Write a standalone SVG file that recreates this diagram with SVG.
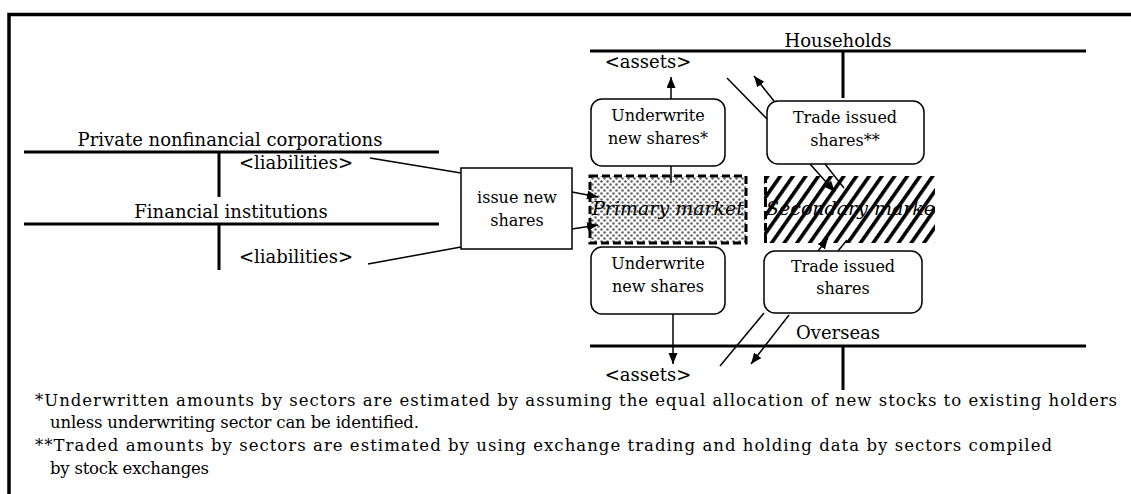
<svg xmlns="http://www.w3.org/2000/svg" width="1131" height="494" viewBox="0 0 1131 494">
<defs>
<style>
text{font-family:"DejaVu Serif","Liberation Serif",serif;fill:#000}
.lbl{font-size:18px;text-anchor:middle}
.box{font-size:16px;text-anchor:middle}
.mkt{font-size:19px;font-style:italic}
.note{font-size:16.5px}
.thick{stroke:#000;stroke-width:3;fill:none}
.conn{stroke:#000;stroke-width:1.5;fill:none}
.arr{stroke:#000;stroke-width:1.5;fill:none;marker-end:url(#ah)}
.rbox{fill:#fff;stroke:#000;stroke-width:1.5}
.dash{fill:none;stroke:#000;stroke-width:3;stroke-dasharray:8 4}
</style>
<marker id="ah" markerUnits="userSpaceOnUse" markerWidth="12" markerHeight="10" refX="11" refY="4.5" orient="auto"><path d="M0,0 L11,4.5 L0,9 Z" fill="#000"/></marker>
<pattern id="dots" width="6" height="6" patternUnits="userSpaceOnUse"><circle cx="1.5" cy="1.5" r="1.3" fill="#666"/><circle cx="4.5" cy="4.5" r="1.3" fill="#666"/></pattern>
<pattern id="hatch" width="10.4" height="20" patternUnits="userSpaceOnUse" patternTransform="rotate(35)"><rect x="0" y="0" width="3.6" height="20" fill="#000"/></pattern>
<clipPath id="secClip"><rect x="764" y="176" width="171" height="67"/></clipPath>
</defs>
<rect width="1131" height="494" fill="#fff"/>
<path d="M9,494 V14.5 H1131" fill="none" stroke="#000" stroke-width="3.5"/>

<g id="households">
<path class="thick" d="M590,51 H1086 M843,51 V98"/>
<text class="lbl" x="838" y="47">Households</text>
<text class="lbl" x="648" y="68" font-size="17">&lt;assets&gt;</text>
</g>
<g id="overseas">
<path class="thick" d="M590,346 H1086 M843,346 V390"/>
<text class="lbl" x="838" y="339">Overseas</text>
<text class="lbl" x="648" y="381" font-size="17">&lt;assets&gt;</text>
</g>
<g id="private-nonfinancial-corporations">
<path class="thick" d="M24,152 H439 M219,152 V197"/>
<text class="lbl" x="230" y="146" font-size="18.5">Private nonfinancial corporations</text>
<text class="lbl" x="296" y="169">&lt;liabilities&gt;</text>
</g>
<g id="financial-institutions">
<path class="thick" d="M24,224 H439 M219,224 V270"/>
<text class="lbl" x="231" y="218" font-size="18.5">Financial institutions</text>
<text class="lbl" x="296" y="263">&lt;liabilities&gt;</text>
</g>
<g id="issue-new-shares">
<rect x="461" y="168" width="111" height="81" fill="#fff" stroke="#000" stroke-width="1.5"/>
<text class="box" x="517" y="203">issue new</text>
<text class="box" x="517" y="226">shares</text>
</g>
<g id="primary-market">
<rect x="590" y="176" width="156" height="67" fill="url(#dots)"/>
<rect class="dash" x="590" y="176" width="156" height="67"/>
<text class="mkt" x="668" y="215" text-anchor="middle">Primary market</text>
</g>
<g id="secondary-market">
<rect x="764" y="176" width="171" height="67" fill="url(#hatch)"/>
<path class="dash" d="M765.5,243 V176"/>
<text class="mkt" x="766" y="215" clip-path="url(#secClip)">Secondary market</text>
</g>
<g id="underwrite-households">
<rect class="rbox" x="591" y="99" width="134" height="67" rx="11"/>
<text class="box" x="658" y="121">Underwrite</text>
<text class="box" x="658" y="144">new shares*</text>
</g>
<g id="trade-households">
<rect class="rbox" x="767" y="101" width="157" height="63" rx="11"/>
<text class="box" x="845" y="123">Trade issued</text>
<text class="box" x="845" y="146">shares**</text>
</g>
<g id="underwrite-overseas">
<rect class="rbox" x="591" y="247" width="134" height="67" rx="11"/>
<text class="box" x="658" y="269">Underwrite</text>
<text class="box" x="658" y="292">new shares</text>
</g>
<g id="trade-overseas">
<rect class="rbox" x="764" y="251" width="158" height="62" rx="11"/>
<text class="box" x="843" y="272">Trade issued</text>
<text class="box" x="843" y="294">shares</text>
</g>

<g id="connectors">
<path class="conn" d="M370,158 L461,173"/>
<path class="conn" d="M368,264 L461,247"/>
<path class="arr" d="M572,192 L598,197"/>
<path class="arr" d="M572,229 L598,225"/>
<path class="arr" d="M671,99 V77"/>
<path class="conn" d="M671,166 V183"/>
<path class="conn" d="M727,78 L767,119"/>
<path class="arr" d="M774,101 L754,76"/>
<path class="arr" d="M810,164 L835,192"/>
<path class="conn" d="M825,164 L844,188"/>
<path class="arr" d="M818,251 L828,238"/>
<path class="conn" d="M838,251 L847,240"/>
<path class="arr" d="M673,314 V364"/>
<path class="conn" d="M764,313 L720,366"/>
<path class="arr" d="M789,315 L751,364"/>
</g>

<g id="notes">
<text class="note" x="35" y="406" textLength="1082" lengthAdjust="spacing">*Underwritten amounts by sectors are estimated by assuming the equal allocation of new stocks to existing holders</text>
<text class="note" x="50" y="428" textLength="369" lengthAdjust="spacing">unless underwriting sector can be identified.</text>
<text class="note" x="35" y="451" textLength="1017" lengthAdjust="spacing">**Traded amounts by sectors are estimated by using exchange trading and holding data by sectors compiled</text>
<text class="note" x="50" y="474" textLength="159" lengthAdjust="spacing">by stock exchanges</text>
</g>
</svg>
